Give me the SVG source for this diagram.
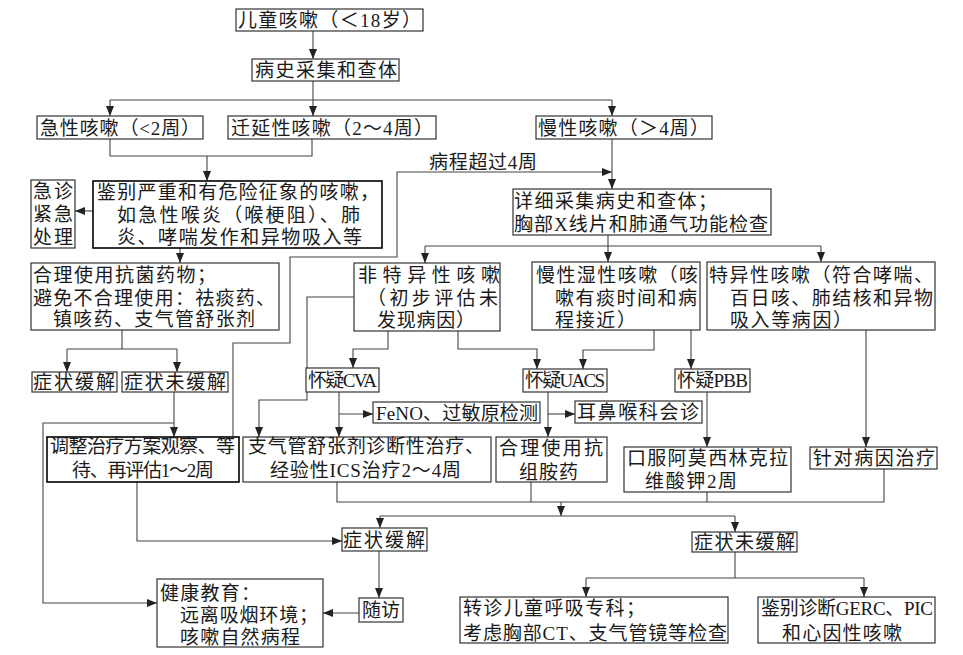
<svg xmlns="http://www.w3.org/2000/svg" width="963" height="655" viewBox="0 0 963 655">
<style>
.box{fill:#fff;stroke:#333;stroke-width:1.2}
.bold{stroke:#000;stroke-width:1.6}
.ln{fill:none;stroke:#444;stroke-width:1.1}
text{font-family:"Liberation Serif","Noto Sans CJK SC",serif;font-size:19px;font-weight:normal;fill:#1a1a1a}
</style>
<defs>
<marker id="ar" markerUnits="userSpaceOnUse" markerWidth="10" markerHeight="10" viewBox="0 0 10 10" refX="10" refY="5" orient="auto">
<path d="M0,1 L10,5 L0,9 Z" fill="#222"/>
</marker>
</defs>
<rect width="963" height="655" fill="#fff"/>
<g id="connectors">
<path class="ln" d="M313,31 V59" marker-end="url(#ar)"/>
<path class="ln" d="M313,81 V100 M110,100 H612"/>
<path class="ln" d="M110,100 V116" marker-end="url(#ar)"/>
<path class="ln" d="M313,100 V116" marker-end="url(#ar)"/>
<path class="ln" d="M612,100 V116" marker-end="url(#ar)"/>
<path class="ln" d="M110,139 V156 H312 V139"/>
<path class="ln" d="M207,156 V181" marker-end="url(#ar)"/>
<path class="ln" d="M93,211 H75" marker-end="url(#ar)"/>
<path class="ln" d="M180,248 V263" marker-end="url(#ar)"/>
<path class="ln" d="M122,330 V349 M67,349 H177"/>
<path class="ln" d="M67,349 V372" marker-end="url(#ar)"/>
<path class="ln" d="M177,349 V372" marker-end="url(#ar)"/>
<path class="ln" d="M174,392 V437" marker-end="url(#ar)"/>
<path class="ln" d="M174,423 H43 V603 H157" marker-end="url(#ar)"/>
<path class="ln" d="M233,437 V343 H290 V257 H397 V172 H612" marker-end="url(#ar)"/>
<path class="ln" d="M612,139 V189" marker-end="url(#ar)"/>
<path class="ln" d="M608,235 V246 M425,246 H821"/>
<path class="ln" d="M425,246 V263" marker-end="url(#ar)"/>
<path class="ln" d="M608,246 V262" marker-end="url(#ar)"/>
<path class="ln" d="M821,246 V262" marker-end="url(#ar)"/>
<path class="ln" d="M354,297 H307 V400 H259 V437" marker-end="url(#ar)"/>
<path class="ln" d="M388,331 V349 H353 V368" marker-end="url(#ar)"/>
<path class="ln" d="M458,331 V349 H537 V369" marker-end="url(#ar)"/>
<path class="ln" d="M654,330 V350 H583 V369" marker-end="url(#ar)"/>
<path class="ln" d="M691,330 V369" marker-end="url(#ar)"/>
<path class="ln" d="M866,330 V447" marker-end="url(#ar)"/>
<path class="ln" d="M339,392 V437" marker-end="url(#ar)"/>
<path class="ln" d="M339,414 H373" marker-end="url(#ar)"/>
<path class="ln" d="M548,392 V437" marker-end="url(#ar)"/>
<path class="ln" d="M548,414 H575" marker-end="url(#ar)"/>
<path class="ln" d="M707,392 V447" marker-end="url(#ar)"/>
<path class="ln" d="M337,482 V502 H884 V469 M531,482 V502 M707,492 V502"/>
<path class="ln" d="M561,502 V516" marker-end="url(#ar)"/>
<path class="ln" d="M380,516 H735"/>
<path class="ln" d="M380,516 V528" marker-end="url(#ar)"/>
<path class="ln" d="M735,516 V532" marker-end="url(#ar)"/>
<path class="ln" d="M137,482 V541 H342" marker-end="url(#ar)"/>
<path class="ln" d="M379,551 V598" marker-end="url(#ar)"/>
<path class="ln" d="M359,613 H323" marker-end="url(#ar)"/>
<path class="ln" d="M735,552 V578 M586,578 H864"/>
<path class="ln" d="M586,578 V597" marker-end="url(#ar)"/>
<path class="ln" d="M864,578 V597" marker-end="url(#ar)"/>
<text x="429" y="169" textLength="108" lengthAdjust="spacing">病程超过4周</text>
</g>
<g id="n-start"><rect class="box" x="236" y="9" width="187" height="22"/><text x="238" y="27" textLength="183" lengthAdjust="spacing">儿童咳嗽（＜18岁）</text></g>
<g id="n-history"><rect class="box" x="252" y="59" width="147" height="22"/><text x="255" y="77" textLength="142" lengthAdjust="spacing">病史采集和查体</text></g>
<g id="n-acute"><rect class="box" x="37" y="116" width="166" height="23"/><text x="40" y="135" textLength="160" lengthAdjust="spacing">急性咳嗽（&lt;2周）</text></g>
<g id="n-prolonged"><rect class="box" x="228" y="116" width="208" height="23"/><text x="231" y="135" textLength="202" lengthAdjust="spacing">迁延性咳嗽（2～4周）</text></g>
<g id="n-chronic"><rect class="box" x="536" y="116" width="176" height="23"/><text x="538" y="135" textLength="171" lengthAdjust="spacing">慢性咳嗽（＞4周）</text></g>
<g id="n-identify"><rect class="box bold" x="93" y="181" width="289" height="67"/>
<text x="97" y="199" textLength="282" lengthAdjust="spacing">鉴别严重和有危险征象的咳嗽，</text>
<text x="117" y="222" textLength="243" lengthAdjust="spacing">如急性喉炎（喉梗阻）、肺</text>
<text x="117" y="244" textLength="245" lengthAdjust="spacing">炎、哮喘发作和异物吸入等</text></g>
<g id="n-emergency"><rect class="box" x="31" y="180" width="44" height="68"/>
<text x="33" y="198" textLength="40" lengthAdjust="spacing">急诊</text>
<text x="33" y="221" textLength="40" lengthAdjust="spacing">紧急</text>
<text x="33" y="244" textLength="40" lengthAdjust="spacing">处理</text></g>
<g id="n-antibiotic"><rect class="box" x="31" y="263" width="248" height="67"/>
<text x="33" y="282" textLength="183" lengthAdjust="spacing">合理使用抗菌药物；</text>
<text x="33" y="305" textLength="242" lengthAdjust="spacing">避免不合理使用：祛痰药、</text>
<text x="53" y="326" textLength="202" lengthAdjust="spacing">镇咳药、支气管舒张剂</text></g>
<g id="n-relief1"><rect class="box" x="32" y="372" width="85" height="20"/><text x="33" y="389" textLength="82" lengthAdjust="spacing">症状缓解</text></g>
<g id="n-norelief1"><rect class="box" x="122" y="372" width="106" height="20"/><text x="124" y="389" textLength="102" lengthAdjust="spacing">症状未缓解</text></g>
<g id="n-adjust"><rect class="box bold" x="47" y="437" width="192" height="45"/>
<text x="50" y="453" textLength="185" lengthAdjust="spacing">调整治疗方案观察、等</text>
<text x="72" y="477" textLength="142" lengthAdjust="spacing">待、再评估1～2周</text></g>
<g id="n-detail"><rect class="box" x="513" y="189" width="258" height="46"/>
<text x="514" y="208" textLength="203" lengthAdjust="spacing">详细采集病史和查体；</text>
<text x="514" y="231" textLength="254" lengthAdjust="spacing">胸部X线片和肺通气功能检查</text></g>
<g id="n-nonspecific"><rect class="box" x="354" y="263" width="146" height="68"/>
<text x="358" y="282" textLength="142" lengthAdjust="spacing">非特异性咳嗽</text>
<text x="367" y="305" textLength="131" lengthAdjust="spacing">（初步评估未</text>
<text x="377" y="327" textLength="98" lengthAdjust="spacing">发现病因）</text></g>
<g id="n-wet"><rect class="box" x="532" y="262" width="168" height="68"/>
<text x="536" y="282" textLength="162" lengthAdjust="spacing">慢性湿性咳嗽（咳</text>
<text x="555" y="305" textLength="142" lengthAdjust="spacing">嗽有痰时间和病</text>
<text x="555" y="327" textLength="81" lengthAdjust="spacing">程接近）</text></g>
<g id="n-specific"><rect class="box" x="707" y="262" width="228" height="68"/>
<text x="709" y="282" textLength="224" lengthAdjust="spacing">特异性咳嗽（符合哮喘、</text>
<text x="730" y="305" textLength="203" lengthAdjust="spacing">百日咳、肺结核和异物</text>
<text x="730" y="327" textLength="122" lengthAdjust="spacing">吸入等病因）</text></g>
<g id="n-cva"><rect class="box" x="306" y="368" width="73" height="24"/><text x="308" y="387" textLength="69" lengthAdjust="spacing">怀疑CVA</text></g>
<g id="n-feno"><rect class="box" x="373" y="402" width="167" height="21"/><text x="376" y="420" textLength="162" lengthAdjust="spacing">FeNO、过敏原检测</text></g>
<g id="n-uacs"><rect class="box" x="523" y="369" width="84" height="23"/><text x="525" y="387" textLength="80" lengthAdjust="spacing">怀疑UACS</text></g>
<g id="n-ent"><rect class="box" x="575" y="401" width="127" height="22"/><text x="577" y="419" textLength="122" lengthAdjust="spacing">耳鼻喉科会诊</text></g>
<g id="n-bronch"><rect class="box" x="243" y="437" width="248" height="45"/>
<text x="248" y="453" textLength="236" lengthAdjust="spacing">支气管舒张剂诊断性治疗、</text>
<text x="270" y="477" textLength="191" lengthAdjust="spacing">经验性ICS治疗2～4周</text></g>
<g id="n-antihist"><rect class="box" x="496" y="437" width="111" height="45"/>
<text x="499" y="455" textLength="104" lengthAdjust="spacing">合理使用抗</text>
<text x="519" y="479" textLength="59" lengthAdjust="spacing">组胺药</text></g>
<g id="n-pbb"><rect class="box" x="675" y="369" width="75" height="23"/><text x="677" y="387" textLength="71" lengthAdjust="spacing">怀疑PBB</text></g>
<g id="n-amox"><rect class="box" x="624" y="447" width="167" height="45"/>
<text x="627" y="465" textLength="161" lengthAdjust="spacing">口服阿莫西林克拉</text>
<text x="645" y="488" textLength="92" lengthAdjust="spacing">维酸钾2周</text></g>
<g id="n-cause"><rect class="box" x="810" y="447" width="127" height="22"/><text x="813" y="465" textLength="122" lengthAdjust="spacing">针对病因治疗</text></g>
<g id="n-relief2"><rect class="box" x="342" y="528" width="85" height="23"/><text x="343" y="547" textLength="82" lengthAdjust="spacing">症状缓解</text></g>
<g id="n-norelief2"><rect class="box" x="692" y="532" width="105" height="20"/><text x="694" y="549" textLength="101" lengthAdjust="spacing">症状未缓解</text></g>
<g id="n-followup"><rect class="box" x="359" y="598" width="44" height="24"/><text x="362" y="617" textLength="38" lengthAdjust="spacing">随访</text></g>
<g id="n-education"><rect class="box" x="157" y="579" width="166" height="68"/>
<text x="160" y="600" textLength="100" lengthAdjust="spacing">健康教育：</text>
<text x="180" y="622" textLength="138" lengthAdjust="spacing">远离吸烟环境；</text>
<text x="180" y="644" textLength="120" lengthAdjust="spacing">咳嗽自然病程</text></g>
<g id="n-referral"><rect class="box" x="460" y="597" width="268" height="46"/>
<text x="463" y="615" textLength="182" lengthAdjust="spacing">转诊儿童呼吸专科；</text>
<text x="463" y="640" textLength="264" lengthAdjust="spacing">考虑胸部CT、支气管镜等检查</text></g>
<g id="n-differential"><rect class="box" x="758" y="597" width="177" height="46"/>
<text x="761" y="615" textLength="172" lengthAdjust="spacing">鉴别诊断GERC、PIC</text>
<text x="782" y="640" textLength="120" lengthAdjust="spacing">和心因性咳嗽</text></g>
</svg>
